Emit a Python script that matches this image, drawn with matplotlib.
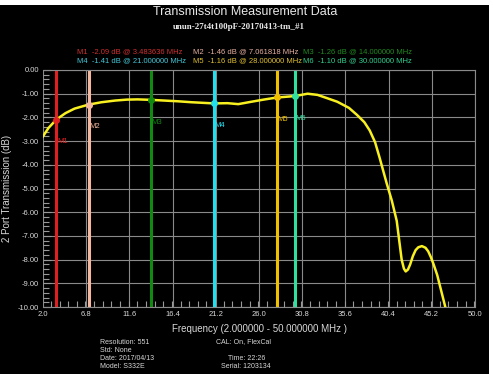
import numpy as np
import matplotlib.pyplot as plt
from matplotlib.ticker import MultipleLocator
from matplotlib.patches import Rectangle

# Trace data
freq = [2.0, 2.6, 3.48, 4.5, 5.5, 7.06, 8.5, 10.0, 11.3, 12.5, 14.0, 15.5, 17.0,
        18.5, 21.0, 22.5, 23.7, 25.0, 26.5, 28.0, 30.0, 31.4, 32.5, 33.5, 34.7,
        36.0, 36.9, 37.7, 38.3, 38.9, 39.4, 40.2, 40.75, 41.3, 41.85, 42.1, 42.3,
        42.55, 42.8, 43.1, 43.4, 43.7, 44.1, 44.5, 44.8, 45.1, 45.4, 45.8, 46.2, 46.7]
s21 = [-2.80, -2.45, -2.09, -1.82, -1.63, -1.46, -1.36, -1.29, -1.25, -1.24, -1.26, -1.29, -1.32,
       -1.36, -1.41, -1.40, -1.44, -1.35, -1.25, -1.16, -1.10, -1.00, -1.05, -1.18, -1.34,
       -1.60, -1.90, -2.20, -2.55, -3.05, -3.70, -4.80, -5.50, -6.36, -8.00, -8.38, -8.50,
       -8.42, -8.20, -7.85, -7.60, -7.48, -7.43, -7.50, -7.65, -7.90, -8.20, -8.65, -9.25, -10.0]

# Markers
mk_names = ['M1', 'M2', 'M3', 'M4', 'M5', 'M6']
mk_freq = [3.483636, 7.061818, 14.0, 21.0, 28.0, 30.0]
mk_val = [-2.09, -1.46, -1.26, -1.41, -1.16, -1.10]
mk_colors = ['#e02020', '#f4b8a0', '#108a10', '#20e0f0', '#f0c000', '#30e0a0']
mk_txt_colors = ['#d03030', '#e8b0a0', '#208a20', '#40c8d8', '#e0c030', '#30d090']

xticks = [2.0, 6.8, 11.6, 16.4, 21.2, 26.0, 30.8, 35.6, 40.4, 45.2, 50.0]

plt.rcParams['font.family'] = ['Liberation Sans', 'DejaVu Sans']

fig = plt.figure(figsize=(4.93, 3.74), dpi=100)
fig.patch.set_facecolor('white')
fig.add_artist(Rectangle((0, 0), 489 / 493, 1 - 5 / 374, transform=fig.transFigure,
                         facecolor='black', edgecolor='none', zorder=0))

ax = fig.add_axes([43 / 493, 1 - 307 / 374, 432 / 493, 237 / 374])
ax.set_facecolor('black')
ax.set_xlim(2.0, 50.0)
ax.set_ylim(-10.0, 0.0)
ax.set_xticks(xticks)
ax.set_xticklabels([f'{t:.1f}' for t in xticks])
ax.yaxis.set_major_locator(MultipleLocator(1.0))
ax.yaxis.set_minor_locator(MultipleLocator(0.2))
ax.xaxis.set_minor_locator(MultipleLocator(0.96))
ax.yaxis.set_major_formatter(plt.FuncFormatter(lambda v, p: f'{v:.2f}'))
ax.grid(True, which='major', color='#8a8a8a', linewidth=0.8)
ax.tick_params(which='both', direction='in', colors='#9a9a9a', labelcolor='#d8d8d8',
               labelsize=5.5)
ax.tick_params(which='major', length=0, pad=3)
ax.tick_params(which='minor', length=4, width=0.8)
ax.tick_params(axis='y', which='major', length=6)
for s in ax.spines.values():
    s.set_color('#8a8a8a')
    s.set_linewidth(0.8)
ax.spines['left'].set_visible(False)

for f, c in zip(mk_freq, mk_colors):
    ax.axvline(f, color=c, linewidth=2.2, zorder=2)

ax.plot(freq, s21, color='#f8f020', linewidth=1.8, zorder=3)

for n, f, v, c in zip(mk_names, mk_freq, mk_val, mk_colors):
    ax.plot(f, v, 'o', color=c, markersize=4, zorder=4)
    ax.annotate(n, (f, v), xytext=(0.5, -16), textcoords='offset points',
                color=c, fontsize=5.5, ha='left', va='center', zorder=5)

ax.set_xlabel('Frequency (2.000000 - 50.000000 MHz )', color='#d8d8d8', fontsize=7, labelpad=4)
ax.set_ylabel('2 Port Transmission (dB)', color='#d8d8d8', fontsize=7, labelpad=4)

fig.text(245 / 493, 1 - 12 / 374, 'Transmission Measurement Data', color='#e8e8e8',
         fontsize=9, ha='center', va='center')
fig.text(239 / 493, 1 - 27 / 374, 'unun-27t4t100pF-20170413-tm_#1', color='#e8e8e8',
         fontsize=6.5, ha='center', va='center', family='Liberation Serif', weight='bold')

col_x = [77, 193, 303]
for i, (n, f, v, c) in enumerate(zip(mk_names, mk_freq, mk_val, mk_txt_colors)):
    row, col = divmod(i, 3)
    fig.text(col_x[col] / 493, 1 - (52 + 9 * row) / 374,
             f'{n}  {v:.2f} dB @ {f:.6f} MHz', color=c, fontsize=5.5,
             ha='left', va='center')

footer_left = ['Resolution: 551', 'Std: None', 'Date: 2017/04/13', 'Model: S332E']
footer_right = [(216, 0, 'CAL: On, FlexCal'), (228, 2, 'Time: 22:26'), (221, 3, 'Serial: 1203134')]
rows_y = [342, 350, 359, 367]
for i, t in enumerate(footer_left):
    fig.text(100 / 493, 1 - rows_y[i] / 374, t, color='#d8d8d8', fontsize=5,
             ha='left', va='center')
for x, r, t in footer_right:
    fig.text(x / 493, 1 - rows_y[r] / 374, t, color='#d8d8d8', fontsize=5,
             ha='left', va='center')

plt.savefig('out.png', dpi=100, facecolor=fig.get_facecolor())
